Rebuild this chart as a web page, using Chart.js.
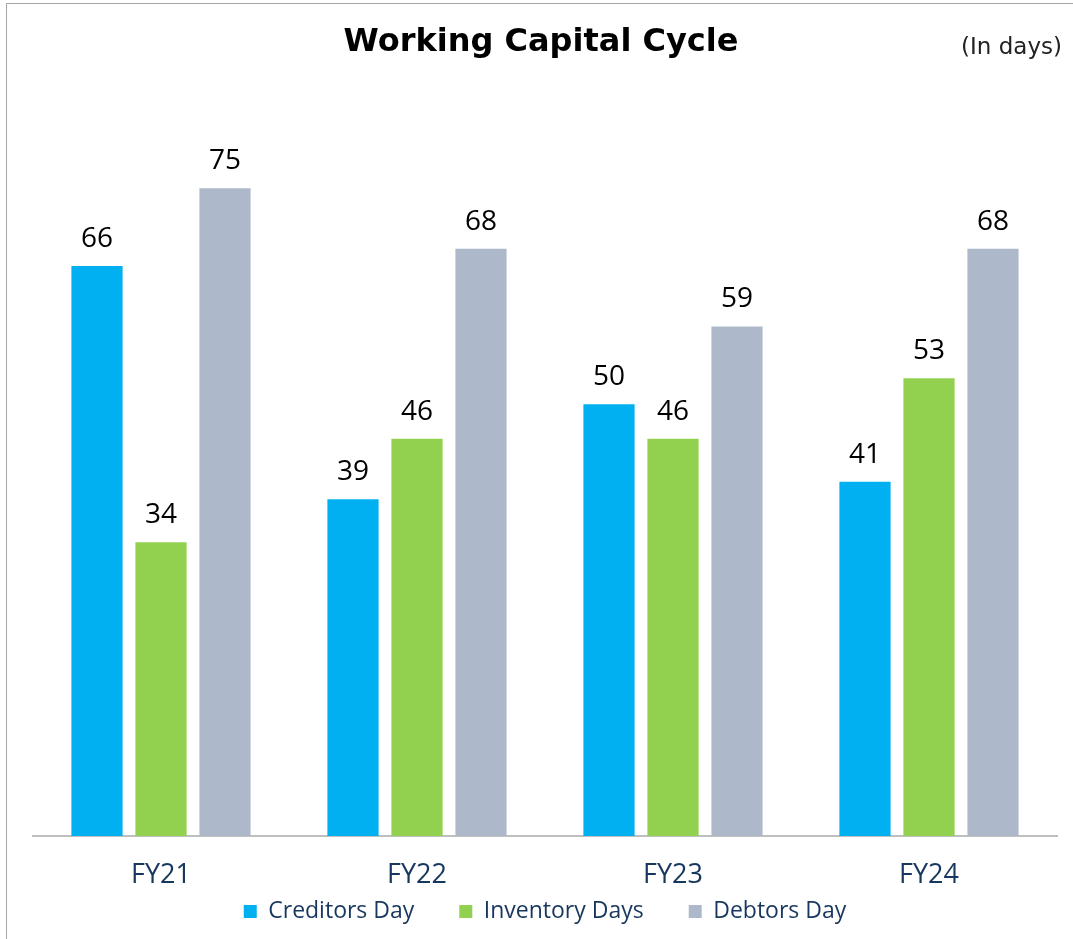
<!DOCTYPE html>
<html>
<head>
<meta charset="utf-8">
<script src="https://cdn.jsdelivr.net/npm/chart.js@4"></script>
<style>
  body { margin: 0; background: #fff; }
  #wrap { position: relative; width: 1073px; height: 939px; }
  #frame { position: absolute; left: 6px; top: 3px; right: 0; bottom: 0;
           border-left: 1.5px solid #a6a6a6; border-top: 1.5px solid #a6a6a6; }
  canvas { position: absolute; left: 0; top: 0; }
</style>
</head>
<body>
<div id="wrap">
  <div id="frame"></div>
  <canvas id="wcc" width="1073" height="939"></canvas>
</div>
<script>
// Chart data
const categories = ['FY21', 'FY22', 'FY23', 'FY24'];
const creditorsDay = [66, 39, 50, 41];
const inventoryDays = [34, 46, 46, 53];
const debtorsDay = [75, 68, 59, 68];

const textColor = '#17375e';

// Title, unit note and value labels drawn on the canvas
const labelsPlugin = {
    id: 'labels',
    afterDatasetsDraw(chart) {
        const ctx = chart.ctx;
        ctx.save();
        ctx.fillStyle = '#000';
        ctx.font = '28px "Open Sans"';
        ctx.textAlign = 'center';
        ctx.textBaseline = 'alphabetic';
        chart.data.datasets.forEach((ds, i) => {
            chart.getDatasetMeta(i).data.forEach((bar, j) => {
                ctx.fillText(ds.data[j], bar.x, bar.y - 19);
            });
        });

        ctx.font = 'bold 32px "DejaVu Sans"';
        ctx.fillText('Working Capital Cycle', 541, 51);

        ctx.font = '23px "DejaVu Sans"';
        ctx.fillStyle = '#222';
        ctx.textAlign = 'right';
        ctx.fillText('(In days)', 1062, 54);
        ctx.restore();
    }
};

const ctx = document.getElementById('wcc').getContext('2d');
new Chart(ctx, {
    type: 'bar',
    data: {
        labels: categories,
        datasets: [
            { label: 'Creditors Day', data: creditorsDay, backgroundColor: '#00b0f0' },
            { label: 'Inventory Days', data: inventoryDays, backgroundColor: '#92d050' },
            { label: 'Debtors Day', data: debtorsDay, backgroundColor: '#adb9ca' }
        ]
    },
    options: {
        responsive: false,
        animation: false,
        layout: { padding: { left: 33, right: 16, top: 145, bottom: 6 } },
        datasets: { bar: { categoryPercentage: 0.75, barPercentage: 0.8 } },
        scales: {
            x: {
                grid: { display: false },
                border: { display: true, color: '#bfbfbf', width: 2 },
                ticks: { color: textColor, font: { family: 'Open Sans', size: 27 }, padding: 15 },
                // short axis box so the plot stays tall; labels hang into the legend band
                afterFit: (scale) => {
                    scale.height = 19;
                    scale._computeLabelArea = () => undefined;
                }
            },
            y: { display: false, min: 0, max: 80 }
        },
        plugins: {
            legend: {
                position: 'bottom',
                labels: {
                    color: textColor,
                    font: { family: 'Open Sans', size: 23 },
                    boxWidth: 13, boxHeight: 13, padding: 45
                }
            },
            tooltip: { enabled: false }
        }
    },
    plugins: [labelsPlugin]
});
</script>
</body>
</html>
